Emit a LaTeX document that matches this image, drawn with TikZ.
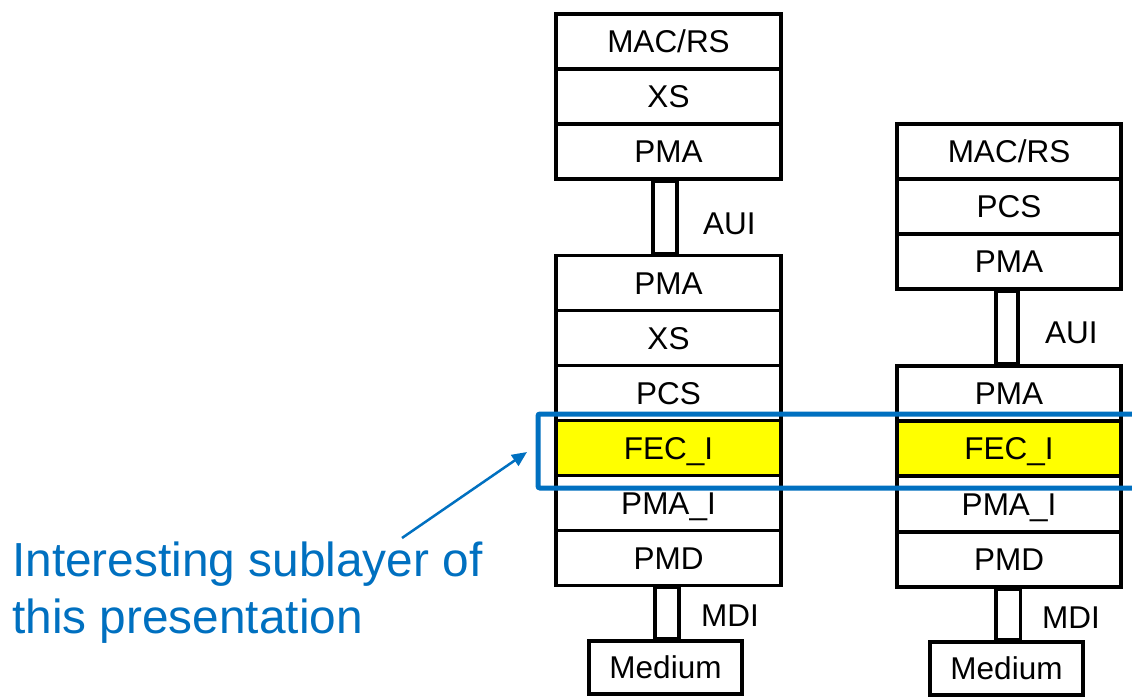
\documentclass[tikz,border=0pt]{standalone}
\usepackage{fontspec}
\setmainfont{Liberation Sans}
\usetikzlibrary{arrows.meta,calc}
\definecolor{noteblue}{RGB}{0,112,192}
\definecolor{fecyellow}{RGB}{255,255,0}
\begin{document}
\begin{tikzpicture}[x=1pt,y=-1pt,
  layerbox/.style={draw=black,line width=3.7pt,fill=white,minimum width=225pt,minimum height=55pt,inner sep=0pt,
    font=\fontsize{31.5}{37}\selectfont,text height=22.5pt,text depth=0pt},
  rlayerbox/.style={layerbox,minimum width=224pt},
  mediumbox/.style={layerbox,minimum width=153pt,minimum height=53pt},
  conn/.style={draw=black,line width=3.7pt},
  lbl/.style={inner sep=0pt,anchor=west,font=\fontsize{31.5}{37}\selectfont,text height=22.5pt,text depth=0pt},
  focusbox/.style={draw=noteblue,line width=5pt,rounded corners=2pt,inner sep=0pt,minimum width=620pt,minimum height=74pt,anchor=north west},
  pointer/.style={draw=noteblue,line width=2.5pt,-{Triangle[length=15pt,width=13pt]}},
  note/.style={inner sep=0pt,anchor=base west,text=noteblue,font=\fontsize{47.8}{55}\selectfont}]
\useasboundingbox (0,0) rectangle (1132,697);
\clip (0,0) rectangle (1132,697);
\fill[white] (0,0) rectangle (1132,697);

% left stack
\node[layerbox] (lmac)  at (668.5,41.5) {MAC/RS};
\node[layerbox] (lxs1)  at (668.5,96.5) {XS};
\node[layerbox] (lpma1) at (668.5,151.5) {PMA};
\node[layerbox] (lpma2) at (668.5,283) {PMA};
\node[layerbox] (lxs2)  at (668.5,338) {XS};
\node[layerbox] (lpcs)  at (668.5,393) {PCS};
\node[layerbox,fill=fecyellow] (lfec) at (668.5,448) {FEC\_I};
\node[layerbox] (lpmai) at (668.5,503) {PMA\_I};
\node[layerbox] (lpmd)  at (668.5,558) {PMD};
\node[mediumbox] (lmed) at (665.5,667.5) {Medium};

\draw[conn] ($(lpma1.south)+(-15.5,0)$) rectangle ($(lpma2.north)+(8.5,0)$);
\draw[conn] ($(lpmd.south)+(-13.5,0)$) rectangle ($(lmed.north)+(13.5,0)$);
\node[lbl] (laui) at (703,223) {AUI};
\node[lbl] (lmdi) at (701,615) {MDI};

% right stack
\node[rlayerbox] (rmac)  at (1009,151.5) {MAC/RS};
\node[rlayerbox] (rpcs)  at (1009,206.5) {PCS};
\node[rlayerbox] (rpma1) at (1009,261.5) {PMA};
\node[rlayerbox] (rpma2) at (1009,393.5) {PMA};
\node[rlayerbox,fill=fecyellow] (rfec) at (1009,448.5) {FEC\_I};
\node[rlayerbox] (rpmai) at (1009,504) {PMA\_I};
\node[rlayerbox] (rpmd)  at (1009,559.5) {PMD};
\node[mediumbox] (rmed) at (1006.5,668.5) {Medium};

\draw[conn] ($(rpma1.south)+(-13,0)$) rectangle ($(rpma2.north)+(9,0)$);
\draw[conn] ($(rpmd.south)+(-13,0)$) rectangle ($(rmed.north)+(14,0)$);
\node[lbl] (raui) at (1045,332) {AUI};
\node[lbl] (rmdi) at (1042,617) {MDI};

% highlight
\node[focusbox] (focus) at (535.5,411.5) {};
\coordinate (tail) at (402,538);
\coordinate (tip) at (527,452);
\draw[pointer] (tail) -- (tip);
\node[note] (note1) at (12,576) {Interesting sublayer of};
\node[note] (note2) at (12,633) {this presentation};
\end{tikzpicture}
\end{document}
